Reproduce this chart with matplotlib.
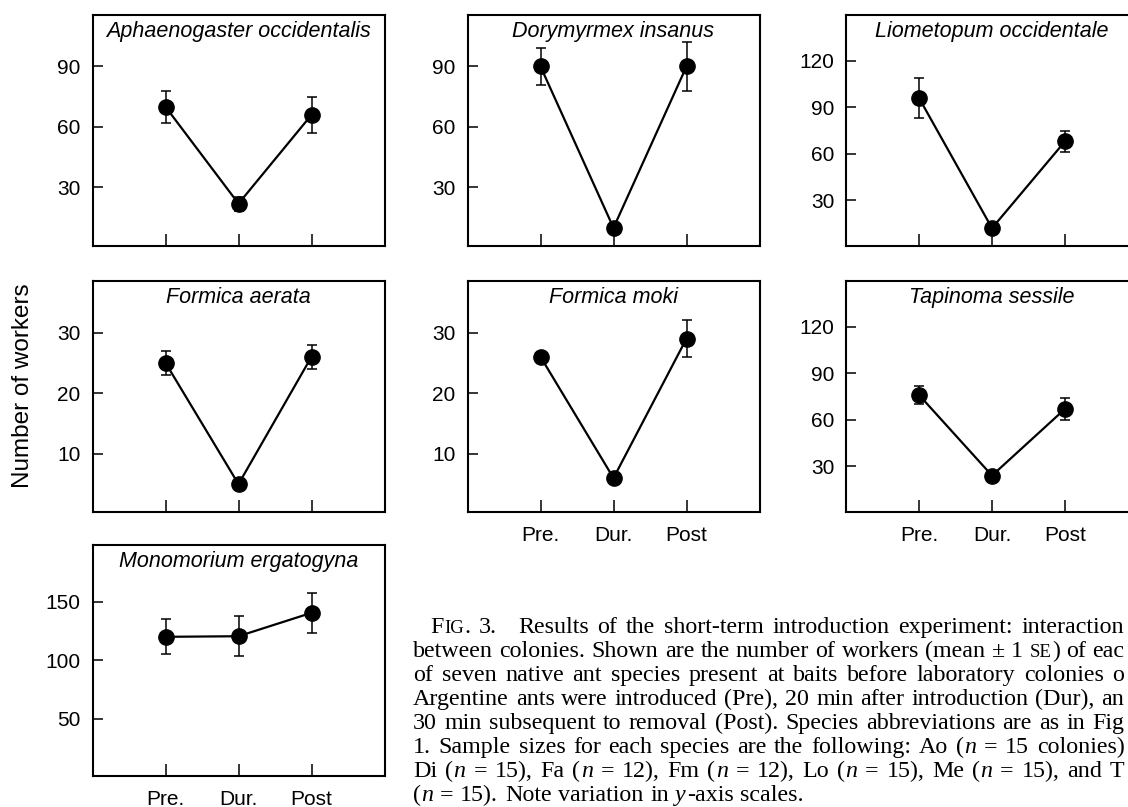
import re
import matplotlib
matplotlib.use("Agg")
import matplotlib.pyplot as plt

plt.rcParams['font.family'] = ['Liberation Sans', 'DejaVu Sans']

# ---------------- data ----------------
periods = ["Pre.", "Dur.", "Post"]
species = ["Aphaenogaster occidentalis", "Dorymyrmex insanus", "Liometopum occidentale",
           "Formica aerata", "Formica moki", "Tapinoma sessile", "Monomorium ergatogyna"]
ao_mean = [70, 22, 66]
ao_se = [8, 3.5, 9]
di_mean = [90, 10, 90]
di_se = [9, 2, 12]
lo_mean = [96, 12, 68]
lo_se = [13, 2, 7]
fa_mean = [25, 5, 26]
fa_se = [2, 0.5, 2]
fm_mean = [26, 6, 29]
fm_se = [0.6, 0.5, 3]
ts_mean = [76, 24, 67]
ts_se = [6, 2, 7]
me_mean = [120, 120.5, 140.5]
me_se = [15, 17, 17]

yticks_90 = [30, 60, 90]
yticks_120 = [30, 60, 90, 120]
yticks_30 = [10, 20, 30]
yticks_150 = [50, 100, 150]

# caption as visible in the (cropped) reference
caption_lines = [
    "F{IG}. 3. || Results of the short-term introduction experiment: interaction",
    "between colonies. Shown are the number of workers (mean \u00b1 1 {SE}) of eac",
    "of seven native ant species present at baits before laboratory colonies o",
    "Argentine ants were introduced (Pre), 20 min after introduction (Dur), an",
    "30 min subsequent to removal (Post). Species abbreviations are as in Fig",
    "1. Sample sizes for each species are the following: Ao (*n* = 15 colonies)",
    "Di (*n* = 15), Fa (*n* = 12), Fm (*n* = 12), Lo (*n* = 15), Me (*n* = 15), and T",
    "(*n* = 15). Note variation in *y*-axis scales.",
]

# ---------------- layout ----------------
W, H = 1128, 807
fig = plt.figure(figsize=(W / 100, H / 100), dpi=100)

PW, PH = 292, 231


def add_ax(left, top):
    return fig.add_axes([left / W, 1 - (top + PH) / H, PW / W, PH / H])


panels = [
    (92.5, 15, species[0], ao_mean, ao_se, yticks_90, (1, 115.5), False),
    (467.5, 15, species[1], di_mean, di_se, yticks_90, (1, 115.5), False),
    (846, 15, species[2], lo_mean, lo_se, yticks_120, (0.5, 149.5), False),
    (92.5, 281, species[3], fa_mean, fa_se, yticks_30, (0.4, 38.5), False),
    (467.5, 281, species[4], fm_mean, fm_se, yticks_30, (0.4, 38.5), True),
    (846, 281, species[5], ts_mean, ts_se, yticks_120, (0.5, 149.5), True),
    (92.5, 545, species[6], me_mean, me_se, yticks_150, (1, 198.5), True),
]

xpos = [1, 2, 3]
for left, top, name, mean, se, yt, ylim, show_x in panels:
    ax = add_ax(left, top)
    ax.errorbar(xpos, mean, yerr=se, fmt='-o', color='black', lw=1.6, ms=11,
                ecolor='black', elinewidth=1.1, capsize=3.8, capthick=1.1)
    ax.set_xlim(0, 4)
    ax.set_ylim(*ylim)
    ax.set_yticks(yt)
    ax.set_xticks(xpos)
    if show_x:
        ax.set_xticklabels(periods, fontsize=15)
    else:
        ax.set_xticklabels([])
    ax.tick_params(axis='x', direction='in', length=8.5, width=1.1, pad=10)
    ax.tick_params(axis='y', direction='in', length=7.5, width=1.1, pad=8.5,
                   labelsize=15)
    for s in ax.spines.values():
        s.set_linewidth(1.5)
    ax.text(0.5, 0.905, name, transform=ax.transAxes, ha='center', va='baseline',
            fontsize=15.5, style='italic')

fig.text(23 / W, 1 - 386 / H, "Number of workers", rotation=90, ha='center',
         va='center', fontsize=17.5)

# ---------------- caption ----------------
CAP_FS = 17.3
SC_FS = CAP_FS * 0.78
renderer = fig.canvas.get_renderer()


def parse_word(word):
    segs = []
    for part in re.split(r'(\{[^}]*\}|\*[^*]*\*)', word):
        if not part:
            continue
        if part.startswith('{'):
            segs.append((part[1:-1], SC_FS, 'normal'))
        elif part.startswith('*'):
            segs.append((part[1:-1], CAP_FS, 'italic'))
        else:
            segs.append((part, CAP_FS, 'normal'))
    return segs


space_px = 0.25 * CAP_FS * 100 / 72


def draw_caption_line(text, x0, baseline, right=None):
    tokens = text.split(' ')
    words = []
    for tok in tokens:
        if tok == '||':
            words[-1][2] += 2 * space_px
            continue
        arts = []
        wsum = 0
        for s, fs, st in parse_word(tok):
            t = fig.text(0, 0, s, fontsize=fs, fontstyle=st, family='Liberation Serif',
                         ha='left', va='baseline')
            bb = t.get_window_extent(renderer)
            arts.append((t, bb.width))
            wsum += bb.width + 0.6
        words.append([arts, wsum, 0.0])
    total = sum(w[1] + w[2] for w in words)
    n = len(words)
    gap = space_px
    if right is not None and n > 1:
        gap = max(0.6 * space_px, (right - x0 - total) / (n - 1))
    x = x0
    for arts, wsum, extra in words:
        for t, w in arts:
            t.set_position((x / W, 1 - baseline / H))
            x += w + 0.6
        x += gap + extra


base0 = 633
for i, line in enumerate(caption_lines):
    x0 = 430 if i == 0 else 413
    right = 1125 if i < len(caption_lines) - 1 else None
    draw_caption_line(line, x0, base0 + 24 * i, right)

fig.savefig("out.png", dpi=100)
